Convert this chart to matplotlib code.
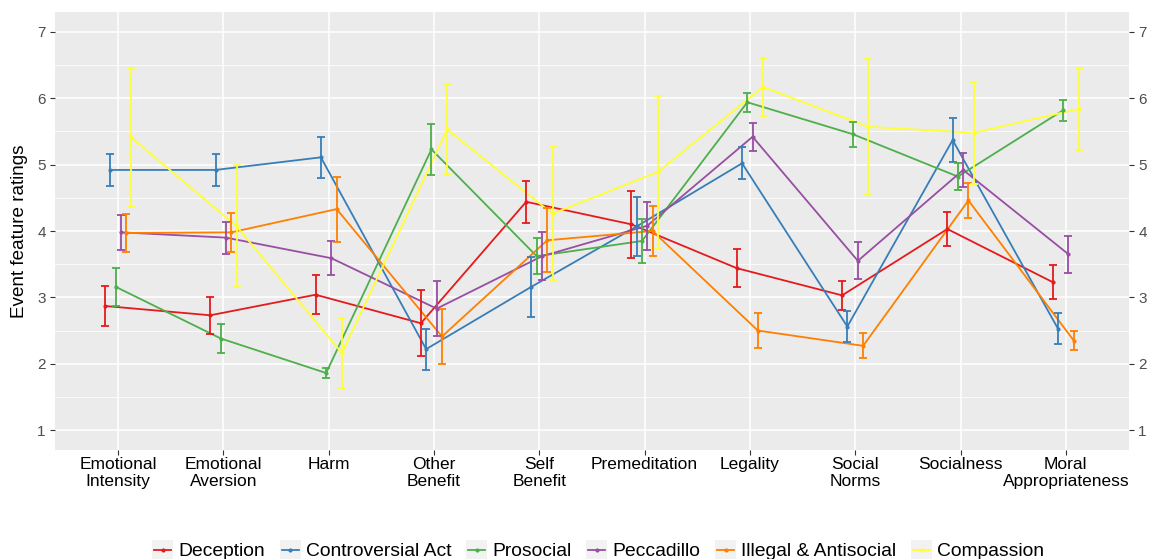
import matplotlib
matplotlib.use("Agg")
import matplotlib.pyplot as plt
from matplotlib.patches import Rectangle
from matplotlib.lines import Line2D
import numpy as np

plt.rcParams['font.family'] = ['Liberation Sans', 'DejaVu Sans']

# feature categories on the x axis
categories = ["Emotional\nIntensity", "Emotional\nAversion", "Harm", "Other\nBenefit",
              "Self\nBenefit", "Premeditation", "Legality", "Social\nNorms",
              "Socialness", "Moral\nAppropriateness"]

# event types (legend order)
groups = ["Deception", "Controversial Act", "Prosocial", "Peccadillo",
          "Illegal & Antisocial", "Compassion"]
colors = ["#E41A1C", "#377EB8", "#4DAF4A", "#984EA3", "#FF7F00", "#FFFF33"]

# mean ratings and error bar half widths
deception = [2.87, 2.73, 3.04, 2.61, 4.44, 4.10, 3.44, 3.03, 4.03, 3.23]
deception_err = [0.30, 0.28, 0.29, 0.50, 0.32, 0.51, 0.29, 0.22, 0.25, 0.26]
controversial = [4.92, 4.92, 5.11, 2.22, 3.16, 4.07, 5.02, 2.56, 5.37, 2.53]
controversial_err = [0.24, 0.24, 0.31, 0.31, 0.45, 0.44, 0.24, 0.24, 0.33, 0.24]
prosocial = [3.16, 2.38, 1.86, 5.23, 3.62, 3.85, 5.94, 5.46, 4.82, 5.82]
prosocial_err = [0.29, 0.22, 0.08, 0.38, 0.27, 0.33, 0.14, 0.19, 0.20, 0.16]
peccadillo = [3.98, 3.90, 3.59, 2.83, 3.62, 4.08, 5.42, 3.55, 4.92, 3.65]
peccadillo_err = [0.26, 0.24, 0.26, 0.41, 0.36, 0.36, 0.21, 0.28, 0.25, 0.28]
illegal = [3.97, 3.98, 4.33, 2.41, 3.86, 4.00, 2.50, 2.27, 4.46, 2.35]
illegal_err = [0.28, 0.29, 0.49, 0.42, 0.48, 0.37, 0.26, 0.19, 0.26, 0.15]
compassion = [5.41, 4.07, 2.16, 5.53, 4.26, 4.89, 6.17, 5.57, 5.48, 5.84]
compassion_err = [1.05, 0.92, 0.53, 0.68, 1.00, 1.15, 0.43, 1.02, 0.77, 0.62]

means = [deception, controversial, prosocial, peccadillo, illegal, compassion]
errors = [deception_err, controversial_err, prosocial_err, peccadillo_err,
          illegal_err, compassion_err]

fig = plt.figure(figsize=(11.49, 5.59), dpi=100)
W, H = 1149, 559
ax = fig.add_axes([55 / W, 1 - 450 / H, (1129 - 55) / W, (450 - 12) / H])
ax.set_facecolor("#EBEBEB")
for s in ax.spines.values():
    s.set_visible(False)

x = np.arange(len(categories))
dodge = 0.3
n = len(groups)
offsets = (np.arange(n) - (n - 1) / 2) * dodge / n

# lines first, then error bars, then points (like the ggplot layers)
for i in range(n):
    ax.plot(x + offsets[i], means[i], color=colors[i], lw=1.3, zorder=3)
for i in range(n):
    ax.errorbar(x + offsets[i], means[i], yerr=errors[i], fmt='none',
                ecolor=colors[i], elinewidth=1.3, capsize=3.2, capthick=1.3, zorder=4)
for i in range(n):
    ax.plot(x + offsets[i], means[i], 'o', color=colors[i], ms=3, mew=0, zorder=5)

ax.set_xlim(-0.6, len(categories) - 0.4)
ax.set_ylim(0.7, 7.3)
ax.set_xticks(x)
ax.set_xticklabels(categories, fontsize=12.5, color="black", linespacing=1.15)
ax.set_yticks(range(1, 8))
ax.set_yticks(np.arange(1.5, 7.0, 1.0), minor=True)
ax.grid(which='major', color='white', lw=1.1, zorder=0)
ax.grid(which='minor', axis='y', color='white', lw=0.55, zorder=0)
ax.set_axisbelow(True)
ax.tick_params(axis='both', which='major', length=3.6, width=0.8, color='#333333')
ax.tick_params(axis='x', pad=1.5)
ax.tick_params(axis='y', which='major', labelsize=11, labelcolor='#4D4D4D', pad=3,
               right=True, labelright=True)
ax.tick_params(which='minor', length=0)
ax.set_ylabel("Event feature ratings", fontsize=13.6, labelpad=7)

# legend along the bottom, drawn by hand with ggplot-like grey keys
fig.canvas.draw()
renderer = fig.canvas.get_renderer()
key_w, key_gap, item_gap = 21, 5, 15
widths = []
for g in groups:
    t = fig.text(0, 0, g, fontsize=13.9)
    widths.append(t.get_window_extent(renderer).width)
    t.remove()
xpos = 152
y_line = 550
for i, g in enumerate(groups):
    fig.add_artist(Rectangle((xpos / W, 1 - 562 / H), key_w / W, 22 / H,
                             transform=fig.transFigure, facecolor="#F2F2F2",
                             edgecolor='none'))
    fig.add_artist(Line2D([(xpos + 2) / W, (xpos + key_w - 2) / W],
                          [1 - y_line / H, 1 - y_line / H], transform=fig.transFigure,
                          color=colors[i], lw=1.3))
    fig.add_artist(Line2D([(xpos + key_w / 2) / W], [1 - y_line / H],
                          transform=fig.transFigure, marker='o', ms=3, mew=0,
                          color=colors[i]))
    fig.text((xpos + key_w + key_gap) / W, 1 - 556.5 / H, g, fontsize=13.9,
             va='baseline', ha='left', color='black')
    xpos += key_w + key_gap + widths[i] + item_gap

fig.savefig("out.png", dpi=100)
